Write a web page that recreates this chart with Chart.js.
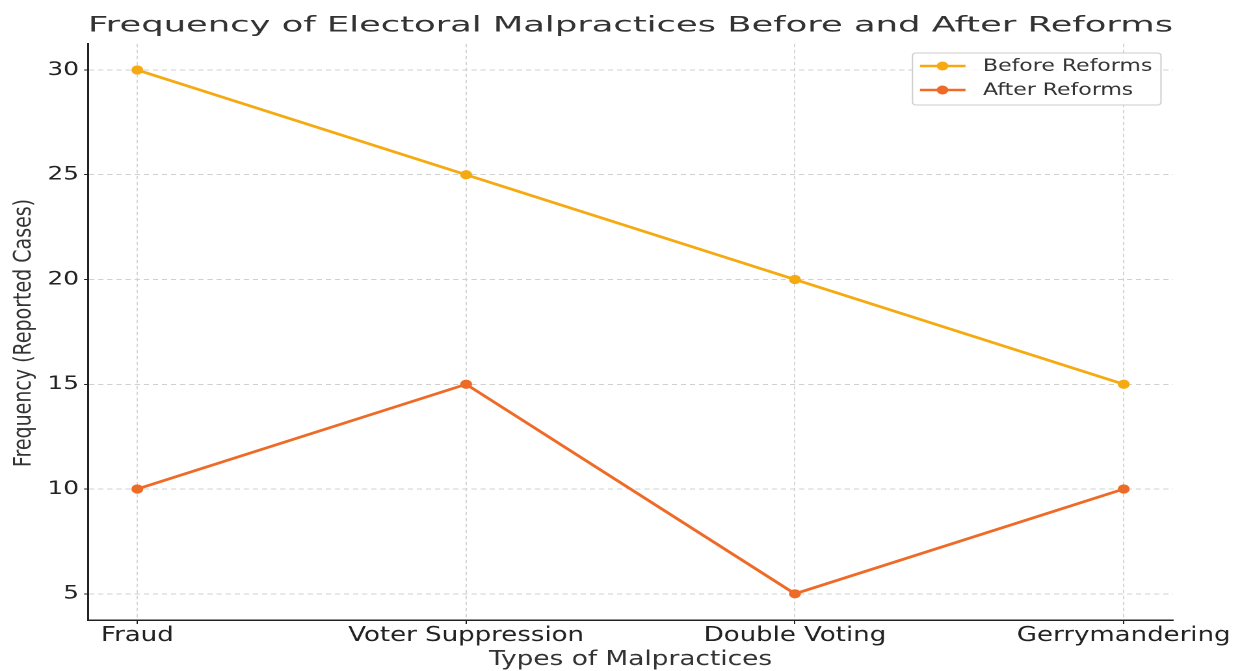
<!DOCTYPE html>
<html>
<head>
<meta charset="utf-8">
<title>Frequency of Electoral Malpractices Before and After Reforms</title>
<script src="https://cdn.jsdelivr.net/npm/chart.js@4.4.1/dist/chart.umd.min.js"></script>
<style>
  html, body { margin: 0; padding: 0; background: #ffffff; overflow: hidden; }
  #wrap { width: 955px; height: 671px; transform: scaleX(1.3005); transform-origin: 0 0; }
  #chart { width: 955px; height: 671px; display: block; }
</style>
</head>
<body>
<div id="wrap"><canvas id="chart" width="955" height="671"></canvas></div>
<script>
// Categories and reported case counts
const categories = ['Fraud', 'Voter Suppression', 'Double Voting', 'Gerrymandering'];
const beforeReforms = [30, 25, 20, 15];
const afterReforms = [10, 15, 5, 10];
const yTickValues = [5, 10, 15, 20, 25, 30];

const chartTitle = 'Frequency of Electoral Malpractices Before and After Reforms';
const xAxisTitle = 'Types of Malpractices';
const yAxisTitle = 'Frequency (Reported Cases)';

const COLOR_BEFORE = '#f5aa12';
const COLOR_AFTER = '#ee6b27';
const STRETCH = 1.3005; // horizontal scale applied to the wrapper
const FONT = '"DejaVu Sans", "Liberation Sans", sans-serif';

Chart.defaults.font.family = FONT;
Chart.defaults.color = '#222';

function toPoints(values) {
  return values.map((v, i) => ({ x: i, y: v }));
}

// Title, axis titles and legend box drawn on top of the plot
const textPlugin = {
  id: 'textPlugin',
  afterDraw(chart) {
    const ctx = chart.ctx;
    const area = chart.chartArea;
    const cx = (area.left + area.right) / 2;

    // main title
    ctx.save();
    ctx.font = '21.5px ' + FONT;
    ctx.fillStyle = '#333';
    ctx.textAlign = 'center';
    ctx.textBaseline = 'alphabetic';
    const natural = ctx.measureText(chartTitle).width;
    const targetWidth = area.right - area.left;
    ctx.translate(cx, 31.5);
    ctx.scale(targetWidth / natural, 1);
    ctx.fillText(chartTitle, 0, 0);
    ctx.restore();

    // x axis title
    ctx.save();
    ctx.font = '20.3px ' + FONT;
    ctx.fillStyle = '#333';
    ctx.textAlign = 'center';
    ctx.textBaseline = 'alphabetic';
    ctx.fillText(xAxisTitle, cx, 665);
    ctx.restore();

    // y axis title (narrow, tall glyphs)
    ctx.save();
    ctx.font = '19px ' + FONT;
    ctx.fillStyle = '#333';
    ctx.textAlign = 'center';
    ctx.textBaseline = 'alphabetic';
    ctx.translate(30.5 / STRETCH, 333);
    ctx.scale(1.25 / STRETCH, 1);
    ctx.rotate(-Math.PI / 2);
    ctx.fillText(yAxisTitle, 0, 0);
    ctx.restore();

    // legend
    const x0 = 912.5 / STRETCH, x1 = 1161 / STRETCH, y0 = 53, y1 = 105, r = 3;
    ctx.save();
    ctx.beginPath();
    ctx.moveTo(x0 + r, y0);
    ctx.lineTo(x1 - r, y0);
    ctx.quadraticCurveTo(x1, y0, x1, y0 + r);
    ctx.lineTo(x1, y1 - r);
    ctx.quadraticCurveTo(x1, y1, x1 - r, y1);
    ctx.lineTo(x0 + r, y1);
    ctx.quadraticCurveTo(x0, y1, x0, y1 - r);
    ctx.lineTo(x0, y0 + r);
    ctx.quadraticCurveTo(x0, y0, x0 + r, y0);
    ctx.closePath();
    ctx.fillStyle = 'rgba(255,255,255,0.85)';
    ctx.fill();
    ctx.strokeStyle = '#cccccc';
    ctx.lineWidth = 1;
    ctx.stroke();

    const rows = [66, 90];
    chart.data.datasets.forEach((ds, i) => {
      const y = rows[i];
      ctx.strokeStyle = ds.borderColor;
      ctx.lineWidth = 2.5;
      ctx.beginPath();
      ctx.moveTo(920 / STRETCH, y);
      ctx.lineTo(965.5 / STRETCH, y);
      ctx.stroke();
      ctx.fillStyle = ds.borderColor;
      ctx.beginPath();
      ctx.arc(942.5 / STRETCH, y, 4.5, 0, Math.PI * 2);
      ctx.fill();
      ctx.fillStyle = '#333';
      ctx.font = '16.9px ' + FONT;
      ctx.textAlign = 'left';
      ctx.textBaseline = 'middle';
      ctx.fillText(ds.label, 983 / STRETCH, y + 0.5);
    });
    ctx.restore();
  }
};

const gridStyle = {
  color: '#d0d0d0',
  lineWidth: 0.9,
  tickColor: '#222',
  tickWidth: 1,
  tickBorderDash: []
};

new Chart(document.getElementById('chart'), {
  type: 'line',
  data: {
    datasets: [
      {
        label: 'Before Reforms',
        data: toPoints(beforeReforms),
        borderColor: COLOR_BEFORE,
        backgroundColor: COLOR_BEFORE,
        pointBackgroundColor: COLOR_BEFORE,
        borderWidth: 2.7,
        pointRadius: 4.6,
        pointBorderWidth: 0,
        tension: 0,
        fill: false
      },
      {
        label: 'After Reforms',
        data: toPoints(afterReforms),
        borderColor: COLOR_AFTER,
        backgroundColor: COLOR_AFTER,
        pointBackgroundColor: COLOR_AFTER,
        borderWidth: 2.7,
        pointRadius: 4.6,
        pointBorderWidth: 0,
        tension: 0,
        fill: false
      }
    ]
  },
  options: {
    responsive: false,
    devicePixelRatio: 2,
    animation: false,
    events: [],
    layout: { padding: { top: 43.75, right: 53, left: 0, bottom: 0 } },
    plugins: {
      legend: { display: false },
      title: { display: false },
      tooltip: { enabled: false }
    },
    scales: {
      x: {
        type: 'linear',
        min: -0.15,
        max: 3.15,
        afterBuildTicks(scale) {
          scale.ticks = categories.map((_, i) => ({ value: i }));
        },
        afterFit(scale) { scale.height = 51; },
        ticks: {
          autoSkip: false,
          maxRotation: 0,
          minRotation: 0,
          padding: 0,
          color: '#222',
          font: { size: 20 },
          callback: (value) => categories[value]
        },
        grid: Object.assign({ tickLength: 4 }, gridStyle),
        border: { display: true, color: '#222', width: 1.5, dash: [3.5, 2.5] }
      },
      y: {
        type: 'linear',
        min: 3.75,
        max: 31.25,
        afterBuildTicks(scale) {
          scale.ticks = yTickValues.map(v => ({ value: v }));
        },
        afterFit(scale) { scale.width = 88 / STRETCH; },
        ticks: {
          padding: 4,
          color: '#222',
          font: { size: 19 }
        },
        grid: Object.assign({ tickLength: 3 }, gridStyle),
        border: { display: true, color: '#222', width: 1.5, dash: [4, 3] }
      }
    }
  },
  plugins: [textPlugin]
});
</script>
</body>
</html>
